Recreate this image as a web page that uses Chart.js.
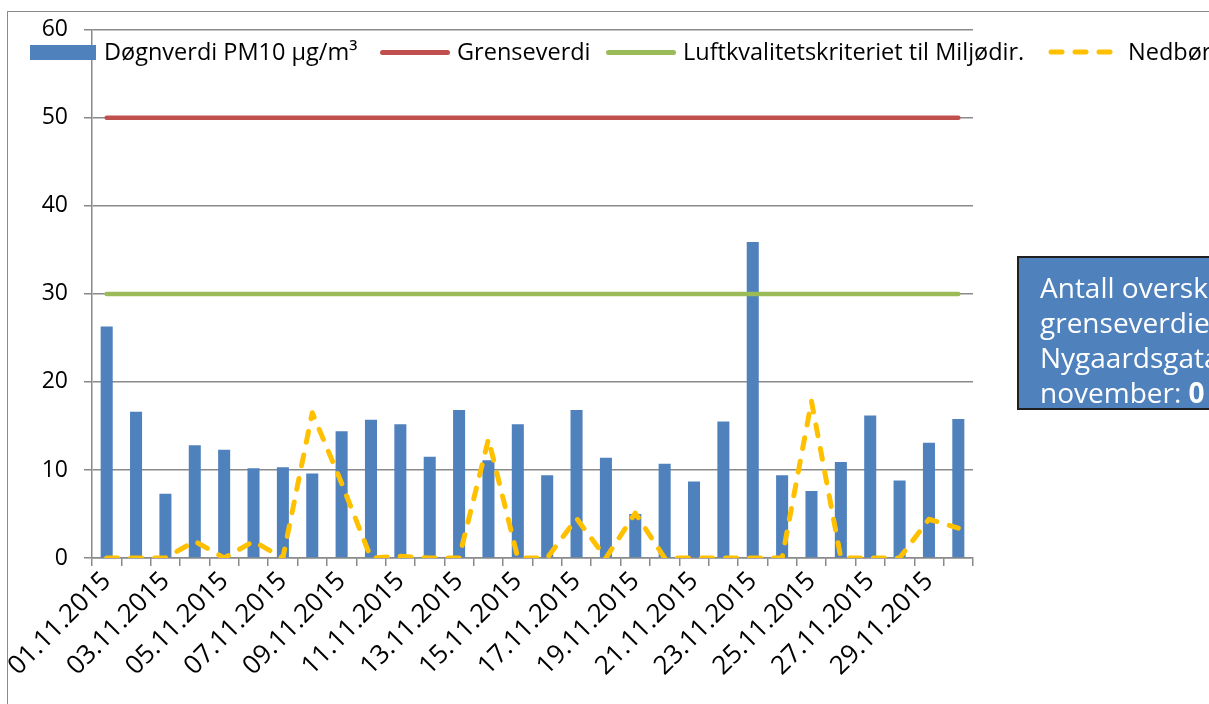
<!DOCTYPE html>
<html>
<head>
<meta charset="utf-8">
<script src="https://cdn.jsdelivr.net/npm/chart.js@4.4.0/dist/chart.umd.min.js"></script>
<style>
  html, body { margin: 0; padding: 0; width: 1209px; height: 704px; overflow: hidden; background: #fff; }
  #wrap { position: relative; width: 1209px; height: 704px; overflow: hidden; font-family: "Open Sans", sans-serif; }
  #frame { position: absolute; left: 7px; top: 11px; width: 1400px; height: 900px; border: 1.5px solid #8a8a8a; }
  canvas { position: absolute; left: 0; top: 0; }
  .leg { position: absolute; top: 36px; font-size: 23.5px; line-height: 30px; color: #000; white-space: nowrap; }
  .mark { position: absolute; }
  #note { position: absolute; left: 1017px; top: 256px; width: 300px; height: 154px; background: #4f81bd;
          border: 2px solid #1f1f1f; color: #fff; font-size: 28px; line-height: 35px; white-space: nowrap;
          padding: 12px 0 0 21px; box-sizing: border-box; }
</style>
</head>
<body>
<div id="wrap">
  <div id="frame"></div>
  <canvas id="pmChart" width="1209" height="704"></canvas>

  <div class="mark" style="left:30px; top:45px; width:66px; height:15px; background:#4f81bd;"></div>
  <div class="leg" style="left:104px;">Døgnverdi PM10 µg/m³</div>
  <div class="mark" style="left:380px; top:50px; width:70px; height:4.5px; border-radius:3px; background:#c0504d;"></div>
  <div class="leg" style="left:457px;">Grenseverdi</div>
  <div class="mark" style="left:606px; top:50px; width:70px; height:4.5px; border-radius:3px; background:#9bbb59;"></div>
  <div class="leg" style="left:683px;">Luftkvalitetskriteriet til Miljødir.</div>
  <svg class="mark" style="left:1046px; top:46px;" width="74" height="12">
    <line x1="5" y1="6" x2="69" y2="6" stroke="#ffc000" stroke-width="5" stroke-linecap="round" stroke-dasharray="11 13"/>
  </svg>
  <div class="leg" style="left:1128px;">Nedbør</div>

  <div id="note">Antall overskridelser av<br>grenseverdien i<br>Nygaardsgata i<br>november: <b>0</b></div>
</div>

<script>
const days = ["01.11.2015", "02.11.2015", "03.11.2015", "04.11.2015", "05.11.2015", "06.11.2015",
              "07.11.2015", "08.11.2015", "09.11.2015", "10.11.2015", "11.11.2015", "12.11.2015",
              "13.11.2015", "14.11.2015", "15.11.2015", "16.11.2015", "17.11.2015", "18.11.2015",
              "19.11.2015", "20.11.2015", "21.11.2015", "22.11.2015", "23.11.2015", "24.11.2015",
              "25.11.2015", "26.11.2015", "27.11.2015", "28.11.2015", "29.11.2015", "30.11.2015"];

// døgnverdi PM10 (µg/m³)
const pm10 = [26.3, 16.6, 7.3, 12.8, 12.3, 10.2, 10.3, 9.6, 14.4, 15.7,
              15.2, 11.5, 16.8, 11.1, 15.2, 9.4, 16.8, 11.4, 5.0, 10.7,
              8.7, 15.5, 35.9, 9.4, 7.6, 10.9, 16.2, 8.8, 13.1, 15.8];

const grenseverdi = [50, 50, 50, 50, 50, 50, 50, 50, 50, 50,
                     50, 50, 50, 50, 50, 50, 50, 50, 50, 50,
                     50, 50, 50, 50, 50, 50, 50, 50, 50, 50];

const kriterium = [30, 30, 30, 30, 30, 30, 30, 30, 30, 30,
                   30, 30, 30, 30, 30, 30, 30, 30, 30, 30,
                   30, 30, 30, 30, 30, 30, 30, 30, 30, 30];

// nedbør (mm)
const nedbor = [0, 0, 0, 1.9, 0, 1.9, 0, 16.5, 8.5, 0,
                0.2, 0, 0, 13.5, 0, 0, 4.5, 0, 5.1, 0,
                0, 0, 0, 0, 17.8, 0, 0, 0, 4.4, 3.4];

const yMin = 0, yMax = 60, yStep = 10;

const axisGrey = "#8a8a8a";
const yFont = { family: "'Open Sans', sans-serif", size: 23 };
const xFont = { family: "'Open Sans', sans-serif", size: 26 };

document.addEventListener("DOMContentLoaded", function () {
    const ctx = document.getElementById("pmChart").getContext("2d");

    new Chart(ctx, {
        type: "bar",
        data: {
            labels: days,
            datasets: [
                {
                    label: "Døgnverdi PM10 µg/m³",
                    data: pm10,
                    backgroundColor: "#4f81bd",
                    barPercentage: 0.41,
                    categoryPercentage: 1.0,
                    order: 5
                },
                {
                    type: "line",
                    label: "Grenseverdi",
                    data: grenseverdi,
                    borderColor: "#c0504d",
                    borderWidth: 4.5,
                    borderCapStyle: "round",
                    pointRadius: 0,
                    fill: false,
                    order: 3
                },
                {
                    type: "line",
                    label: "Luftkvalitetskriteriet til Miljødir.",
                    data: kriterium,
                    borderColor: "#9bbb59",
                    borderWidth: 4.5,
                    borderCapStyle: "round",
                    pointRadius: 0,
                    fill: false,
                    order: 2
                },
                {
                    type: "line",
                    label: "Nedbør",
                    data: nedbor,
                    borderColor: "#ffc000",
                    borderWidth: 5,
                    borderDash: [11, 13],
                    borderCapStyle: "round",
                    borderJoinStyle: "round",
                    pointRadius: 0,
                    tension: 0,
                    fill: false,
                    order: 1
                }
            ]
        },
        options: {
            responsive: false,
            animation: false,
            layout: { padding: { left: 0, top: 27, right: 236, bottom: 0 } },
            plugins: {
                legend: { display: false },
                tooltip: { enabled: false }
            },
            scales: {
                x: {
                    grid: {
                        display: true,
                        drawOnChartArea: false,
                        drawTicks: true,
                        tickLength: 8,
                        offset: true,
                        color: axisGrey,
                        lineWidth: 1.5
                    },
                    border: { display: true, color: axisGrey, width: 1.5 },
                    ticks: {
                        autoSkip: false,
                        maxRotation: 45,
                        minRotation: 45,
                        color: "#000",
                        font: xFont,
                        padding: 0,
                        callback: function (value, index) {
                            return index % 2 === 0 ? days[index] : "";
                        }
                    },
                    afterFit: function (scale) { scale.height = 146; }
                },
                y: {
                    min: yMin,
                    max: yMax,
                    grid: {
                        color: axisGrey,
                        lineWidth: 1.5,
                        tickLength: 8
                    },
                    border: { display: true, color: axisGrey, width: 1.5 },
                    ticks: {
                        stepSize: yStep,
                        color: "#000",
                        font: yFont,
                        padding: 16
                    },
                    afterFit: function (scale) { scale.width = 92; }
                }
            }
        }
    });
});
</script>
</body>
</html>
